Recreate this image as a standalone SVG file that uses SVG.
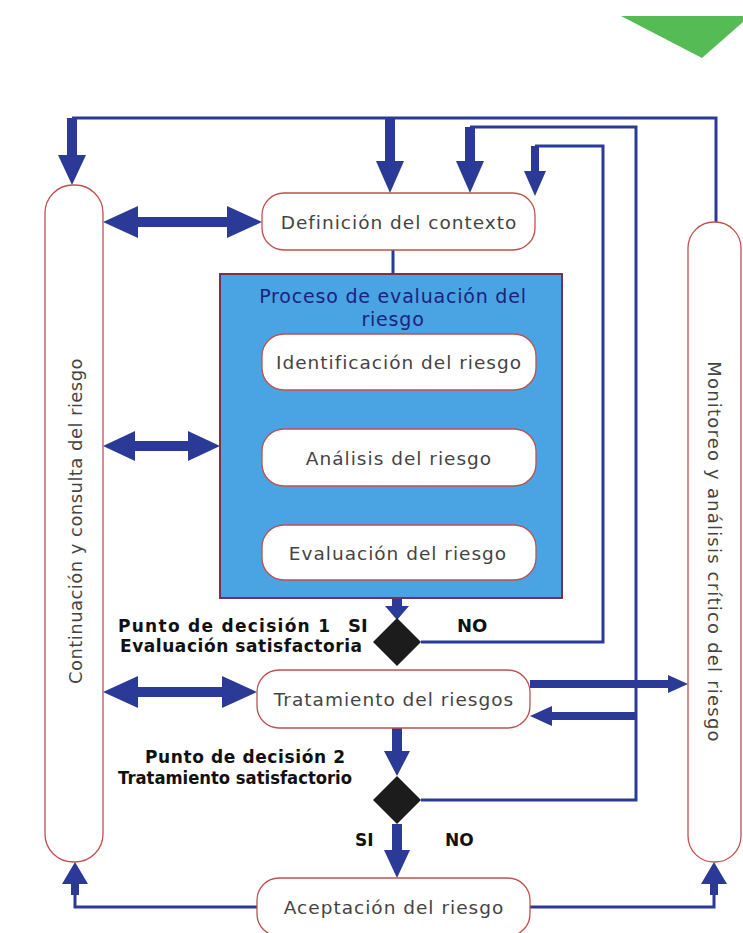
<svg xmlns="http://www.w3.org/2000/svg" width="743" height="933" viewBox="0 0 743 933">
<style>
.node{fill:#fff;stroke:#c0504d;stroke-width:1.3}
.lbl{font-family:"DejaVu Sans","Liberation Sans",sans-serif;font-size:18.5px;letter-spacing:1px;fill:#444;text-anchor:middle;dominant-baseline:central}
.vl{font-family:"DejaVu Sans","Liberation Sans",sans-serif;font-size:18px;fill:#444;text-anchor:middle;dominant-baseline:central}
.ttl{font-family:"DejaVu Sans","Liberation Sans",sans-serif;font-size:19px;letter-spacing:0.8px;fill:#1a237e;text-anchor:middle;dominant-baseline:central}
.bold{font-family:"DejaVu Sans","Liberation Sans",sans-serif;font-size:17px;font-weight:bold;fill:#111}
.ln{fill:none;stroke:#2b3a97;stroke-width:3}
.ar{fill:#2b3a97}
.dia{fill:#1c1c1c}
</style>
<rect width="743" height="933" fill="#fff"/>
<polygon points="621,16 743,16 743,22 702,58" fill="#55bb55"/>

<g id="connectors">
<path class="ln" d="M72,118 H716 V222"/>
<path class="ln" d="M470,127 H636 V800 H421"/>
<path class="ln" d="M535,146 H603 V642 H421"/>
<path class="ln" d="M393,250 V274" stroke-width="2.5"/>
<path class="ln" d="M257,907 H75 V880"/>
<path class="ln" d="M530,907 H714 V880"/>
<path class="ar" d="M67,118 L77,118 L77,155 L86,155 L72,185 L58,155 L67,155 Z"/>
<path class="ar" d="M385,118 L395,118 L395,161 L404,161 L390,193 L376,161 L385,161 Z"/>
<path class="ar" d="M465,127 L475,127 L475,161 L484,161 L470,193 L456,161 L465,161 Z"/>
<path class="ar" d="M531,146 L539,146 L539,171 L546,171 L535,196 L524,171 L531,171 Z"/>
<path class="ar" d="M103,222 L138,206 L138,217 L227,217 L227,206 L262,222 L227,238 L227,227 L138,227 L138,238 Z"/>
<path class="ar" d="M103,446 L135,431 L135,441 L188,441 L188,431 L220,446 L188,461 L188,451 L135,451 L135,461 Z"/>
<path class="ar" d="M103,692 L138,676 L138,687 L222,687 L222,676 L257,692 L222,708 L222,697 L138,697 L138,708 Z"/>
<path class="ar" d="M530,680 L668,680 L668,675 L688,684 L668,693 L668,688 L530,688 Z"/>
<path class="ar" d="M636,712 L552,712 L552,706 L530,716 L552,726 L552,720 L636,720 Z"/>
<path class="ar" d="M392,598 L402,598 L402,606 L409,606 L397,620 L385,606 L392,606 Z"/>
<path class="ar" d="M392,728 L402,728 L402,751 L410,751 L397,776 L384,751 L392,751 Z"/>
<path class="ar" d="M392,824 L402,824 L402,850 L410,850 L397,878 L384,850 L392,850 Z"/>
<path class="ar" d="M71,895 L71,884 L62,884 L75,862 L88,884 L79,884 L79,895 Z"/>
<path class="ar" d="M710,895 L710,884 L701,884 L714,862 L727,884 L718,884 L718,895 Z"/>
</g>

<g id="continuacion">
<rect class="node" x="45" y="185" width="58" height="677" rx="28"/>
<text class="vl" transform="translate(75,521) rotate(-90)" letter-spacing="0.45">Continuación y consulta del riesgo</text>
</g>
<g id="monitoreo">
<rect class="node" x="688" y="222" width="53" height="640" rx="26"/>
<text class="vl" transform="translate(714,552) rotate(90)" letter-spacing="1.2">Monitoreo y análisis crítico del riesgo</text>
</g>
<g id="definicion">
<rect class="node" x="262" y="193" width="273" height="57" rx="22"/>
<text class="lbl" x="399" y="222">Definición del contexto</text>
</g>
<g id="proceso">
<rect x="220" y="274" width="342" height="324" fill="#4aa3e3" stroke="#7a3050" stroke-width="2"/>
<text class="ttl" x="393" y="296">Proceso de evaluación del</text>
<text class="ttl" x="393" y="319">riesgo</text>
</g>
<g id="identificacion">
<rect class="node" x="262" y="334" width="274" height="56" rx="22"/>
<text class="lbl" x="399" y="362">Identificación del riesgo</text>
</g>
<g id="analisis">
<rect class="node" x="262" y="429" width="274" height="57" rx="22"/>
<text class="lbl" x="399" y="458">Análisis del riesgo</text>
</g>
<g id="evaluacion">
<rect class="node" x="262" y="525" width="274" height="55" rx="22"/>
<text class="lbl" x="398" y="553">Evaluación del riesgo</text>
</g>
<g id="decision1">
<path class="dia" d="M397,618 L421,642 L397,666 L373,642 Z"/>
<text class="bold" x="118" y="632" textLength="212" lengthAdjust="spacing">Punto de decisión 1</text>
<text class="bold" x="120" y="652" textLength="242" lengthAdjust="spacing">Evaluación satisfactoria</text>
<text class="bold" x="348" y="632" style="font-size:18px">SI</text>
<text class="bold" x="457" y="632" style="font-size:18px">NO</text>
</g>
<g id="tratamiento">
<rect class="node" x="257" y="670" width="273" height="58" rx="22"/>
<text class="lbl" x="394" y="699">Tratamiento del riesgos</text>
</g>
<g id="decision2">
<path class="dia" d="M397,776 L421,800 L397,824 L373,800 Z"/>
<text class="bold" x="145" y="763" textLength="200" lengthAdjust="spacing">Punto de decisión 2</text>
<text class="bold" x="118" y="784" textLength="234" lengthAdjust="spacingAndGlyphs">Tratamiento satisfactorio</text>
<text class="bold" x="355" y="846">SI</text>
<text class="bold" x="445" y="846">NO</text>
</g>
<g id="aceptacion">
<rect class="node" x="257" y="878" width="273" height="58" rx="22"/>
<text class="lbl" x="394" y="907">Aceptación del riesgo</text>
</g>
</svg>
